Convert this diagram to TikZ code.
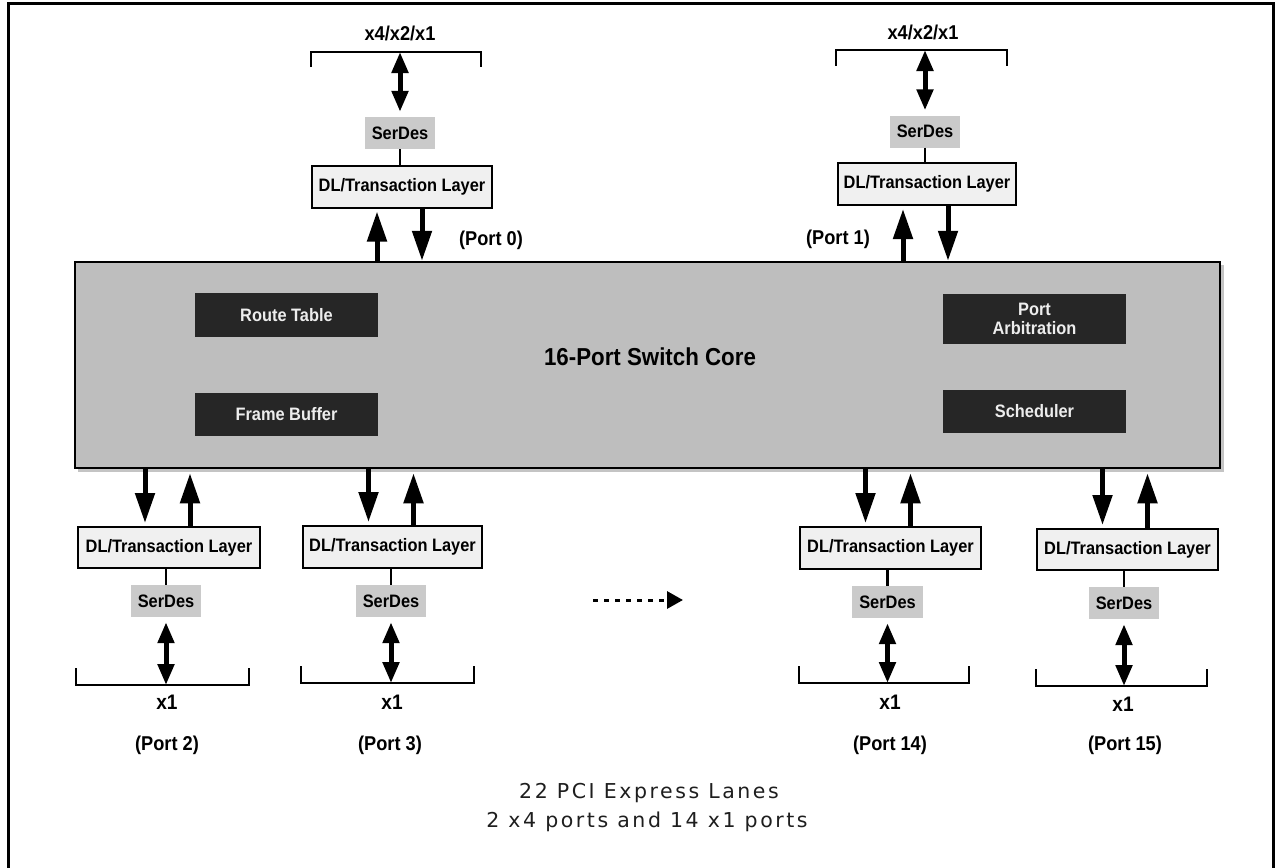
\documentclass[tikz,border=0pt]{standalone}
\usepackage{fontspec}
\setmainfont{Liberation Sans}[FakeStretch=0.91]
\newfontfamily\capfont{DejaVu Sans}[LetterSpace=12.5]
\usetikzlibrary{arrows.meta,calc}
\definecolor{coregray}{HTML}{BEBEBE}
\definecolor{sdgray}{HTML}{CACACA}
\definecolor{dlfill}{HTML}{F0F0F0}
\definecolor{innerfill}{HTML}{262626}
\definecolor{shadowgray}{HTML}{C4C4C4}
\definecolor{captext}{HTML}{1E1E1E}
\begin{document}
\begin{tikzpicture}[x=1pt,y=-1pt,
  lbl/.style={font=\fontsize{18}{21}\selectfont\bfseries, text=black, inner sep=0pt},
  portlbl/.style={font=\fontsize{20}{23}\selectfont\bfseries, text=black, inner sep=0pt},
  xlbl/.style={font=\fontsize{21}{24}\selectfont\bfseries, text=black, inner sep=0pt},
  dlbox/.style={draw=black, line width=2pt, fill=dlfill, inner sep=0pt, minimum height=42pt, lbl},
  sdbox/.style={fill=sdgray, inner sep=0pt, minimum width=70pt, minimum height=32pt, lbl},
  innerbox/.style={fill=innerfill, inner sep=0pt, minimum width=183pt, minimum height=44pt, align=center,
     font=\fontsize{18}{20}\selectfont\bfseries, text=white!93!black},
  bigarrow/.style={line width=5pt, -{Triangle[width=19pt,length=30pt]}},
  dblarrow/.style={line width=5pt, {Triangle[width=16pt,length=21pt]}-{Triangle[width=16pt,length=21pt]}},
  bracket/.style={line width=2.5pt},
  link/.style={line width=2.5pt},
  caption/.style={font=\capfont\fontsize{20.5}{24}\selectfont, text=captext, inner sep=0pt}
]
\useasboundingbox (0,0) rectangle (1276,867);
% outer frame
\draw[line width=3pt] (8,880) -- (8,4) -- (1273,4) -- (1273,880);

% switch core
\fill[shadowgray] (78,265) rectangle (1224,472);
\node[draw=black, line width=2.5pt, fill=coregray, minimum width=1145pt, minimum height=206pt, inner sep=0pt] (core) at (647.5,365) {};
\node[font=\fontsize{24.5}{28}\selectfont\bfseries, inner sep=0pt] (title) at (650,357) {16-Port Switch Core};
\node[innerbox] (rt) at (286.5,315) {Route Table};
\node[innerbox, minimum height=43pt] (fb) at (286.5,414.5) {Frame Buffer};
\node[innerbox, minimum height=50pt] (pa) at (1034.5,319) {Port\\[-1pt]Arbitration};
\node[innerbox, minimum height=43pt] (sch) at (1034.5,411.5) {Scheduler};

% ---------- Port 0 (top left)
\node[portlbl] (lx0) at (400,33) {x4/x2/x1};
\draw[bracket] (311,67) -- (311,52) -- (481,52) -- (481,67);
\coordinate (b0) at (400,52);
\node[sdbox] (sd0) at (400,133) {SerDes};
\node[dlbox, minimum width=180pt] (dl0) at (402,186.5) {DL/Transaction Layer};
\draw[link] (sd0.south) -- (sd0.south |- dl0.north);
\draw[dblarrow, shorten >=5pt] (b0) -- (b0 |- sd0.north);
\draw[bigarrow, shorten >=3pt] ([xshift=-25pt]dl0.south |- core.north) -- ([xshift=-25pt]dl0.south);
\draw[bigarrow] ([xshift=20pt]dl0.south) -- ([xshift=20pt]dl0.south |- core.north);
\node[portlbl] (p0) at (491,240) {(Port 0)};

% ---------- Port 1 (top right)
\node[portlbl] (lx1) at (923,32) {x4/x2/x1};
\draw[bracket] (836,66) -- (836,50) -- (1007,50) -- (1007,66);
\coordinate (b1) at (925,50);
\node[sdbox] (sd1) at (925,131.5) {SerDes};
\node[dlbox, minimum width=178pt] (dl1) at (927,184) {DL/Transaction Layer};
\draw[link] (sd1.south) -- (sd1.south |- dl1.north);
\draw[dblarrow, shorten >=5pt] (b1) -- (b1 |- sd1.north);
\draw[bigarrow, shorten >=3pt] ([xshift=-24pt]dl1.south |- core.north) -- ([xshift=-24pt]dl1.south);
\draw[bigarrow] ([xshift=21pt]dl1.south) -- ([xshift=21pt]dl1.south |- core.north);
\node[portlbl] (p1) at (838,239) {(Port 1)};

% ---------- Port 2
\node[dlbox, minimum width=182pt, minimum height=41pt] (dl2) at (169,547.5) {DL/Transaction Layer};
\node[sdbox] (sd2) at (166,601) {SerDes};
\draw[link] (dl2.south -| sd2.north) -- (sd2.north);
\draw[bracket] (76,668) -- (76,685) -- (249,685) -- (249,668);
\coordinate (b2) at (166,685);
\draw[dblarrow, shorten <=5pt] (b2 |- sd2.south) -- (b2);
\draw[bigarrow, shorten >=3pt] ([xshift=-24pt]dl2.north |- core.south) -- ([xshift=-24pt]dl2.north);
\draw[bigarrow, shorten >=4pt] ([xshift=21pt]dl2.north) -- ([xshift=21pt]dl2.north |- core.south);
\node[xlbl] (x2) at (167,702) {x1};
\node[portlbl] (p2) at (167,745) {(Port 2)};

% ---------- Port 3
\node[dlbox, minimum width=179pt] (dl3) at (392.5,547) {DL/Transaction Layer};
\node[sdbox] (sd3) at (391,601) {SerDes};
\draw[link] (dl3.south -| sd3.north) -- (sd3.north);
\draw[bracket] (301,666) -- (301,683) -- (474,683) -- (474,666);
\coordinate (b3) at (391,683);
\draw[dblarrow, shorten <=5pt] (b3 |- sd3.south) -- (b3);
\draw[bigarrow, shorten >=3pt] ([xshift=-24pt]dl3.north |- core.south) -- ([xshift=-24pt]dl3.north);
\draw[bigarrow, shorten >=4pt] ([xshift=21pt]dl3.north) -- ([xshift=21pt]dl3.north |- core.south);
\node[xlbl] (x3) at (392,702) {x1};
\node[portlbl] (p3) at (390,745) {(Port 3)};

% ---------- dotted continuation arrow
\coordinate (ds) at (593,600);
\coordinate (de) at (683,600);
\draw[line width=3pt, dash pattern=on 5pt off 6pt, -{Triangle[width=17pt,length=16pt]}] (ds) -- (de);

% ---------- Port 14
\node[dlbox, minimum width=181pt] (dl14) at (890.5,548) {DL/Transaction Layer};
\node[sdbox, minimum width=71pt] (sd14) at (887.5,602) {SerDes};
\draw[link] (dl14.south -| sd14.north) -- (sd14.north);
\draw[bracket] (799,666) -- (799,683) -- (969,683) -- (969,666);
\coordinate (b14) at (887.5,683);
\draw[dblarrow, shorten <=5pt] (b14 |- sd14.south) -- (b14);
\draw[bigarrow, shorten >=3pt] ([xshift=-25pt]dl14.north |- core.south) -- ([xshift=-25pt]dl14.north);
\draw[bigarrow, shorten >=4pt] ([xshift=20pt]dl14.north) -- ([xshift=20pt]dl14.north |- core.south);
\node[xlbl] (x14) at (890,702) {x1};
\node[portlbl] (p14) at (890,745) {(Port 14)};

% ---------- Port 15
\node[dlbox, minimum width=181pt, minimum height=41pt] (dl15) at (1127.5,549.5) {DL/Transaction Layer};
\node[sdbox] (sd15) at (1124,603) {SerDes};
\draw[link] (dl15.south -| sd15.north) -- (sd15.north);
\draw[bracket] (1036,669) -- (1036,686) -- (1207,686) -- (1207,669);
\coordinate (b15) at (1124,686);
\draw[dblarrow, shorten <=5pt] (b15 |- sd15.south) -- (b15);
\draw[bigarrow, shorten >=3pt] ([xshift=-25pt]dl15.north |- core.south) -- ([xshift=-25pt]dl15.north);
\draw[bigarrow, shorten >=4pt] ([xshift=20pt]dl15.north) -- ([xshift=20pt]dl15.north |- core.south);
\node[xlbl] (x15) at (1123,704) {x1};
\node[portlbl] (p15) at (1125,745) {(Port 15)};

% ---------- caption
\node[caption] (cap1) at (649,793) {22 PCI Express Lanes};
\node[caption] (cap2) at (647,822) {2 x4 ports and 14 x1 ports};
\end{tikzpicture}
\end{document}
